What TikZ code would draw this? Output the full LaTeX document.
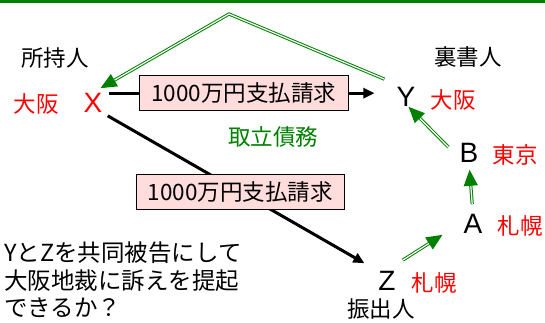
\documentclass[tikz,border=0pt]{standalone}
\usepackage{fontspec}
\setmainfont{Noto Sans CJK JP}
\newfontfamily\latinfont{Liberation Sans}
\usetikzlibrary{arrows.meta}
\definecolor{darkgreen}{RGB}{0,128,0}
\definecolor{boxpink}{RGB}{255,221,221}

\begin{document}
\begin{tikzpicture}[x=1pt,y=-1pt]
\tikzstyle{every node}=[font=\fontsize{22.5}{27}\selectfont, inner sep=0pt]
\tikzstyle{party}=[font=\fontsize{28}{30}\selectfont\latinfont]
\tikzstyle{city}=[text=red]
\tikzstyle{claimbox}=[draw, fill=boxpink, line width=0.8pt, inner xsep=12pt, inner ysep=7pt]
\tikzstyle{claim}=[line width=3pt, -{Triangle[length=11pt,width=10pt]}]
\tikzstyle{recourse}=[draw=darkgreen, double=white, line width=1pt, double distance=1.2pt,
  -{Triangle[length=16pt,width=14pt,color=darkgreen,fill=darkgreen]}]
\useasboundingbox (0,0) rectangle (545,322);
\fill[darkgreen] (0,0) rectangle (545,3);

% parties
\node (X) [party, text=red] at (93,103) {X};
\node (Y) [party] at (406,97) {Y};
\node (B) [party] at (469,153) {B};
\node (A) [party] at (473,224) {A};
\node (Z) [party] at (387,281) {Z};

% roles and places
\node (holder) at (55,58) {所持人};
\node (endorser) at (468,57) {裏書人};
\node (drawer) at (381,309) {振出人};
\node (xcity) [city] at (36,104) {大阪};
\node (ycity) [city] at (453,100) {大阪};
\node (bcity) [city] at (515,155) {東京};
\node (acity) [city] at (520,226) {札幌};
\node (zcity) [city] at (434,283) {札幌};
\node (duty) [text=darkgreen] at (273,137) {取立債務};

% claims
\draw[claim, shorten <=6pt, shorten >=22pt] (X.north east) -- (X.north east -| Y.west)
  node[claimbox, pos=0.48] (claimy) {1000万円支払請求};
\draw[claim, shorten <=6pt, shorten >=16pt] (X.south east) -- (Z.north west)
  node[claimbox, pos=0.5] (claimz) {1000万円支払請求};

% chain of endorsements
\coordinate (peak) at (229,14);
\draw[recourse] ([shift={(7,-11)}]Z.north east) -- ([shift={(-21,1)}]A.south west);
\draw[recourse, shorten <=10pt, shorten >=7pt] (A.north) -- (B.south);
\draw[recourse] ([shift={(-11,4)}]B.north west) -- ([shift={(-7,0)}]Y.south east);
\draw[recourse] ([shift={(-12,-8)}]Y.north west) -- (peak) -- ([shift={(-2,-5)}]X.north east);

\node (question) [anchor=north west, align=left, font=\fontsize{23.5}{27.5}\selectfont] at (4,242)
  {YとZを共同被告にして\\大阪地裁に訴えを提起\\できるか？};
\end{tikzpicture}
\end{document}
